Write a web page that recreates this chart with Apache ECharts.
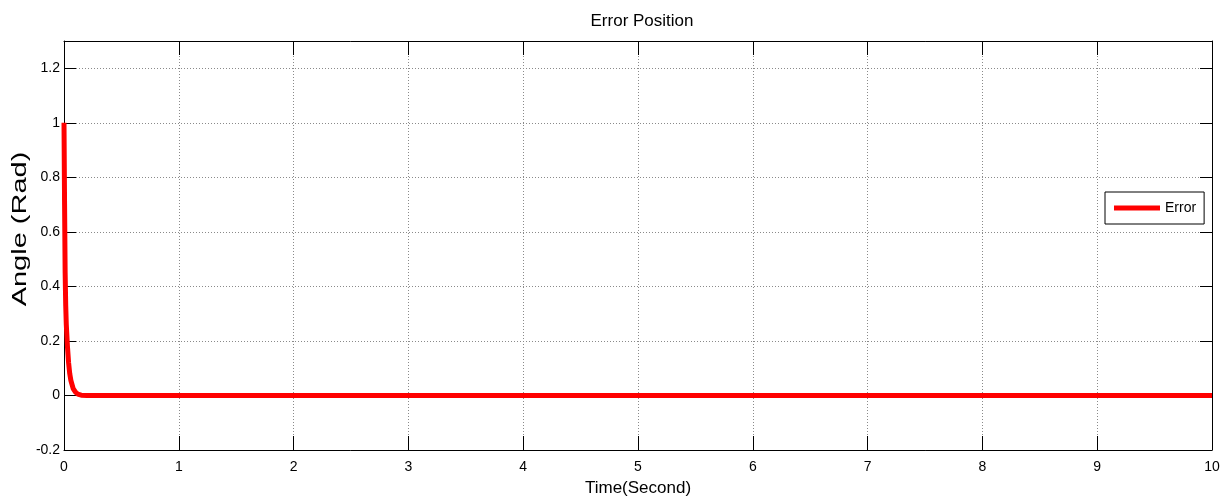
<!DOCTYPE html>
<html>
<head>
<meta charset="utf-8">
<script src="https://cdn.jsdelivr.net/npm/echarts@6/dist/echarts.min.js"></script>
<style>
html,body{margin:0;padding:0;background:#fff;}
#c{width:1226px;height:504px;}
</style>
</head>
<body>
<div id="c"></div>
<script>
var titleText = 'Error Position';
var xName = 'Time(Second)';
var yName = 'Angle (Rad)';
var seriesName = 'Error';
var times  = [0, 0.005, 0.01, 0.015, 0.02, 0.03, 0.04, 0.05, 0.06, 0.08, 0.1, 0.12, 0.15, 0.2, 10];
var errors = [1, 0.7, 0.45, 0.33, 0.26, 0.18, 0.12, 0.08, 0.055, 0.025, 0.012, 0.005, 0.001, 0, 0];

var FONT = '"Liberation Sans",Arial,sans-serif';
var data = times.map(function(t, i){ return [t, errors[i]]; });

var chart = echarts.init(document.getElementById('c'));
var gridLine = {show:true, lineStyle:{color:'#8a8a8a', type:[1,2], width:1}};
var axisLineBlack = {show:true, onZero:false, lineStyle:{color:'#000', width:1}};
var xTick = {show:true, inside:true, length:14, lineStyle:{color:'#000', width:1}};
var yTick = {show:true, inside:true, length:12, lineStyle:{color:'#000', width:1}};
chart.setOption({
  animation:false,
  backgroundColor:'#fff',
  title:{text:titleText, left:637, textAlign:'center', top:8,
    textStyle:{fontFamily:FONT, fontSize:17, fontWeight:'normal', color:'#000'}},
  grid:{left:64, right:14, top:41, bottom:54, containLabel:false},
  legend:{left:1105, top:192, orient:'vertical', padding:[8,8,8,9],
    borderColor:'#000', borderWidth:1, backgroundColor:'#fff',
    itemWidth:46, itemHeight:5, itemGap:5,
    textStyle:{fontFamily:FONT, fontSize:14, color:'#000', lineHeight:16},
    data:[{name:seriesName, icon:'rect'}]},
  graphic:[{type:'text', x:20, y:229, rotation:Math.PI/2, scaleX:1.45,
    style:{text:yName, fontFamily:FONT, fontSize:20, fill:'#000',
      align:'center', verticalAlign:'middle'}}],
  xAxis:[{type:'value', min:0, max:10, interval:1,
      name:xName, nameLocation:'middle', nameGap:30,
      nameTextStyle:{fontFamily:FONT, fontSize:17, color:'#000'},
      axisLine:axisLineBlack, axisTick:xTick, splitLine:gridLine,
      axisLabel:{fontFamily:FONT, fontSize:14, color:'#000', margin:10}},
    {type:'value', min:0, max:10, interval:1, position:'top',
      axisLine:axisLineBlack, axisTick:xTick, splitLine:{show:false},
      axisLabel:{show:false}}],
  yAxis:[{type:'value', min:-0.2, max:1.3, interval:0.2,
      axisLine:axisLineBlack, axisTick:yTick, splitLine:gridLine,
      axisLabel:{fontFamily:FONT, fontSize:14, color:'#000', margin:4, showMaxLabel:false,
        formatter:function(v){ return Math.round(v*10)/10 + ''; }}},
    {type:'value', min:-0.2, max:1.3, interval:0.2, position:'right',
      axisLine:axisLineBlack, axisTick:yTick, splitLine:{show:false},
      axisLabel:{show:false}}],
  series:[{name:seriesName, type:'line', data:data, showSymbol:false, symbol:'none',
    xAxisIndex:0, yAxisIndex:0, smooth:false,
    itemStyle:{color:'#ff0000'},
    lineStyle:{color:'#ff0000', width:5}}]
});
</script>
</body>
</html>
